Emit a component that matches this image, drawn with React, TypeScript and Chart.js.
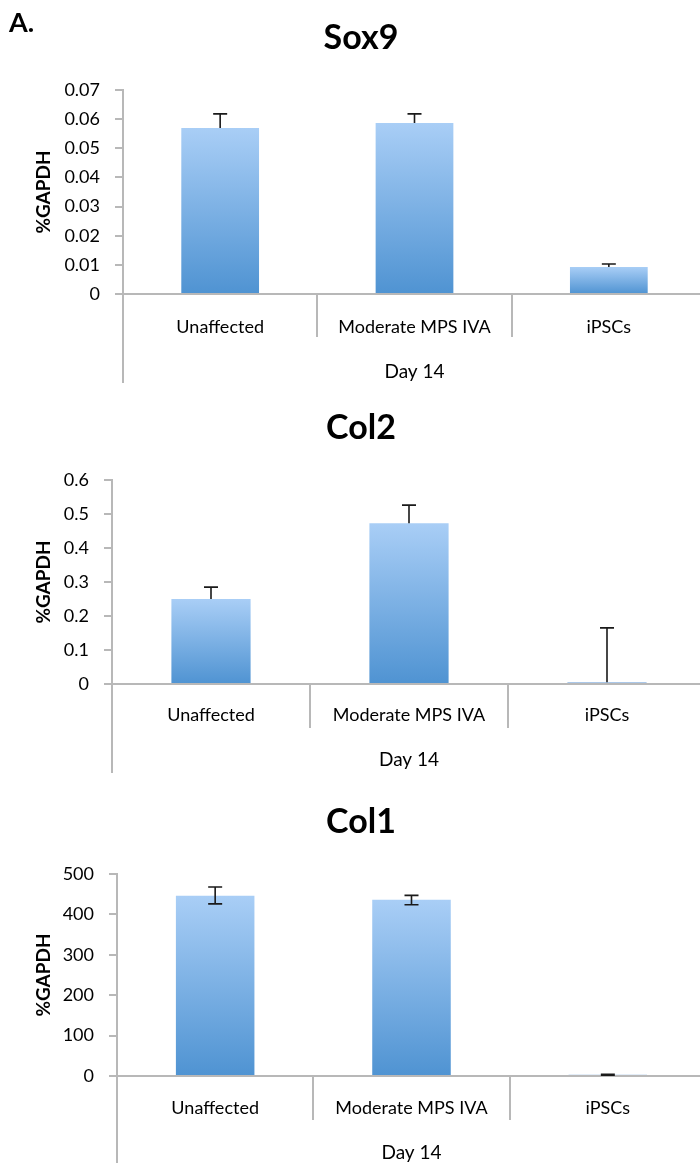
import React, { useEffect, useRef } from "react";
import { Chart, registerables } from "chart.js";

Chart.register(...registerables);

// ---------- data ----------
const categories = ["Unaffected", "Moderate MPS IVA", "iPSCs"];
const groupLabel = "Day 14";
const yLabel = "%GAPDH";
const panelLabel = "A.";

const sox9Title = "Sox9";
const sox9Values = [0.057, 0.0587, 0.0093];
const sox9ErrUp = [0.0048, 0.0031, 0.001];
const sox9ErrDown = [0, 0, 0];
const sox9Ticks = ["0", "0.01", "0.02", "0.03", "0.04", "0.05", "0.06", "0.07"];
const sox9Max = 0.07;
const sox9Step = 0.01;

const col2Title = "Col2";
const col2Values = [0.25, 0.473, 0.005];
const col2ErrUp = [0.035, 0.053, 0.16];
const col2ErrDown = [0, 0, 0];
const col2Ticks = ["0", "0.1", "0.2", "0.3", "0.4", "0.5", "0.6"];
const col2Max = 0.6;
const col2Step = 0.1;

const col1Title = "Col1";
const col1Values = [446, 436, 3];
const col1ErrUp = [22, 11, 1];
const col1ErrDown = [20, 12, 1];
const col1Ticks = ["0", "100", "200", "300", "400", "500"];
const col1Max = 500;
const col1Step = 100;

// ---------- style / layout ----------
const FONT = "Lato, 'Open Sans', sans-serif";
const AXIS = "#b8b8b8";
const TEXT = "#000";
const BAR_TOP = "#a9cef6";
const BAR_BOTTOM = "#4f93d2";
const CANVAS_W = 706;
const PAD_LEFT = 16;
const TICK_SIZE = 18;
const AXIS_TITLE_SIZE = 19;
const TITLE_SIZE = 34;

type Geo = {
  h: number; axisX: number; top: number; bottom: number; titleCenter: number;
  sepLen: number; axisExt: number; labelCenter: number; dayCenter: number; yTitleX: number;
};

const sox9Geo: Geo = { h: 390, axisX: 123, top: 90, bottom: 294, titleCenter: 38, sepLen: 43, axisExt: 89, labelCenter: 327, dayCenter: 372, yTitleX: 44 };
const col2Geo: Geo = { h: 390, axisX: 112, top: 90, bottom: 294, titleCenter: 38, sepLen: 44, axisExt: 89, labelCenter: 325, dayCenter: 370, yTitleX: 44 };
const col1Geo: Geo = { h: 386, axisX: 117, top: 94, bottom: 296, titleCenter: 42, sepLen: 44, axisExt: 87, labelCenter: 328, dayCenter: 373, yTitleX: 44 };

type PanelProps = {
  title: string; values: number[]; errUp: number[]; errDown: number[];
  ticks: string[]; max: number; step: number; geo: Geo;
};

function Panel({ title, values, errUp, errDown, ticks, max, step, geo }: PanelProps) {
  const ref = useRef<HTMLCanvasElement | null>(null);

  useEffect(() => {
    if (!ref.current) return;
    const tickLH = TICK_SIZE * 1.2;
    const axTitleLH = AXIS_TITLE_SIZE * 1.2;
    const titleLH = TITLE_SIZE * 1.2;

    const errorBars = {
      id: "errorBars",
      afterDatasetsDraw(chart: any) {
        const ys = chart.scales.y;
        const meta = chart.getDatasetMeta(0);
        const c = chart.ctx;
        c.save();
        c.strokeStyle = "#1a1a1a";
        c.lineWidth = 1.6;
        meta.data.forEach((bar: any, i: number) => {
          const v = values[i];
          const yv = ys.getPixelForValue(v);
          const yu = ys.getPixelForValue(v + errUp[i]);
          const yd = ys.getPixelForValue(v - errDown[i]);
          const half = 7;
          c.beginPath();
          c.moveTo(bar.x, yu);
          c.lineTo(bar.x, errDown[i] > 0 ? yd : yv);
          c.moveTo(bar.x - half, yu);
          c.lineTo(bar.x + half, yu);
          if (errDown[i] > 0) {
            c.moveTo(bar.x - half, yd);
            c.lineTo(bar.x + half, yd);
          }
          c.stroke();
        });
        c.restore();
      },
    };

    const axisExtension = {
      id: "axisExtension",
      afterDraw(chart: any) {
        const a = chart.chartArea;
        const c = chart.ctx;
        c.save();
        c.strokeStyle = AXIS;
        c.lineWidth = 2;
        c.beginPath();
        c.moveTo(a.left, a.bottom);
        c.lineTo(a.left, a.bottom + geo.axisExt);
        c.stroke();
        c.restore();
      },
    };

    const chart = new Chart(ref.current, {
      type: "bar",
      data: {
        labels: categories,
        datasets: [
          {
            data: values,
            barPercentage: 1,
            categoryPercentage: 0.4,
            borderWidth: 0,
            backgroundColor: (ctx: any) => {
              const ch = ctx.chart;
              if (!ch.chartArea || ctx.type !== "data") return BAR_BOTTOM;
              const ys = ch.scales.y;
              const yTop = ys.getPixelForValue(ctx.raw);
              const y0 = ys.getPixelForValue(0);
              if (y0 - yTop < 3) return "#8fb6e2";
              const g = ch.ctx.createLinearGradient(0, yTop, 0, y0);
              g.addColorStop(0, BAR_TOP);
              g.addColorStop(1, BAR_BOTTOM);
              return g;
            },
          },
        ],
      },
      options: {
        responsive: false,
        animation: false,
        layout: { padding: { left: PAD_LEFT, right: 0, top: 0, bottom: 0 } },
        plugins: {
          legend: { display: false },
          tooltip: { enabled: false },
          title: {
            display: true,
            text: title,
            color: "#000",
            font: { family: FONT, size: TITLE_SIZE, weight: "bold" },
            padding: {
              top: geo.titleCenter - titleLH / 2,
              bottom: geo.top - geo.titleCenter - titleLH / 2,
            },
          },
        },
        scales: {
          x: {
            grid: {
              offset: true,
              drawOnChartArea: false,
              tickLength: geo.sepLen,
              color: AXIS,
              lineWidth: 2,
            },
            border: { color: AXIS, width: 2 },
            ticks: {
              color: TEXT,
              font: { family: FONT, size: TICK_SIZE },
              padding: geo.labelCenter - geo.bottom - geo.sepLen - tickLH / 2,
              maxRotation: 0,
              autoSkip: false,
            },
            title: {
              display: true,
              text: groupLabel,
              color: TEXT,
              font: { family: FONT, size: AXIS_TITLE_SIZE },
              padding: { top: 0, bottom: geo.h - geo.dayCenter - axTitleLH / 2 },
            },
            afterFit: (s: any) => {
              s.height = geo.h - geo.bottom;
            },
          },
          y: {
            min: 0,
            max,
            grid: { drawOnChartArea: false, tickLength: 8, color: AXIS, lineWidth: 2 },
            border: { color: AXIS, width: 2 },
            ticks: {
              stepSize: step,
              color: TEXT,
              font: { family: FONT, size: TICK_SIZE },
              padding: 15,
              callback: (_v: any, i: number) => ticks[i],
            },
            title: {
              display: true,
              text: yLabel,
              color: TEXT,
              font: { family: FONT, size: AXIS_TITLE_SIZE, weight: "bold" },
              padding: { top: geo.yTitleX - PAD_LEFT - axTitleLH / 2, bottom: 0 },
            },
            afterFit: (s: any) => {
              s.width = geo.axisX - PAD_LEFT;
            },
          },
        },
      } as any,
      plugins: [errorBars, axisExtension],
    });
    return () => chart.destroy();
  }, []);

  return (
    <canvas
      ref={ref}
      width={CANVAS_W}
      height={geo.h}
      style={{ display: "block", width: CANVAS_W, height: geo.h }}
    />
  );
}

export default function App() {
  return (
    <div
      style={{
        position: "absolute",
        left: 0,
        top: 0,
        width: 700,
        height: 1166,
        overflow: "hidden",
        background: "#fff",
      }}
    >
      <div
        style={{
          position: "absolute",
          left: 9,
          top: 6,
          fontFamily: FONT,
          fontWeight: "bold",
          fontSize: 27,
          lineHeight: "32px",
          color: "#000",
          zIndex: 2,
        }}
      >
        {panelLabel}
      </div>
      <Panel title={sox9Title} values={sox9Values} errUp={sox9ErrUp} errDown={sox9ErrDown} ticks={sox9Ticks} max={sox9Max} step={sox9Step} geo={sox9Geo} />
      <Panel title={col2Title} values={col2Values} errUp={col2ErrUp} errDown={col2ErrDown} ticks={col2Ticks} max={col2Max} step={col2Step} geo={col2Geo} />
      <Panel title={col1Title} values={col1Values} errUp={col1ErrUp} errDown={col1ErrDown} ticks={col1Ticks} max={col1Max} step={col1Step} geo={col1Geo} />
    </div>
  );
}
